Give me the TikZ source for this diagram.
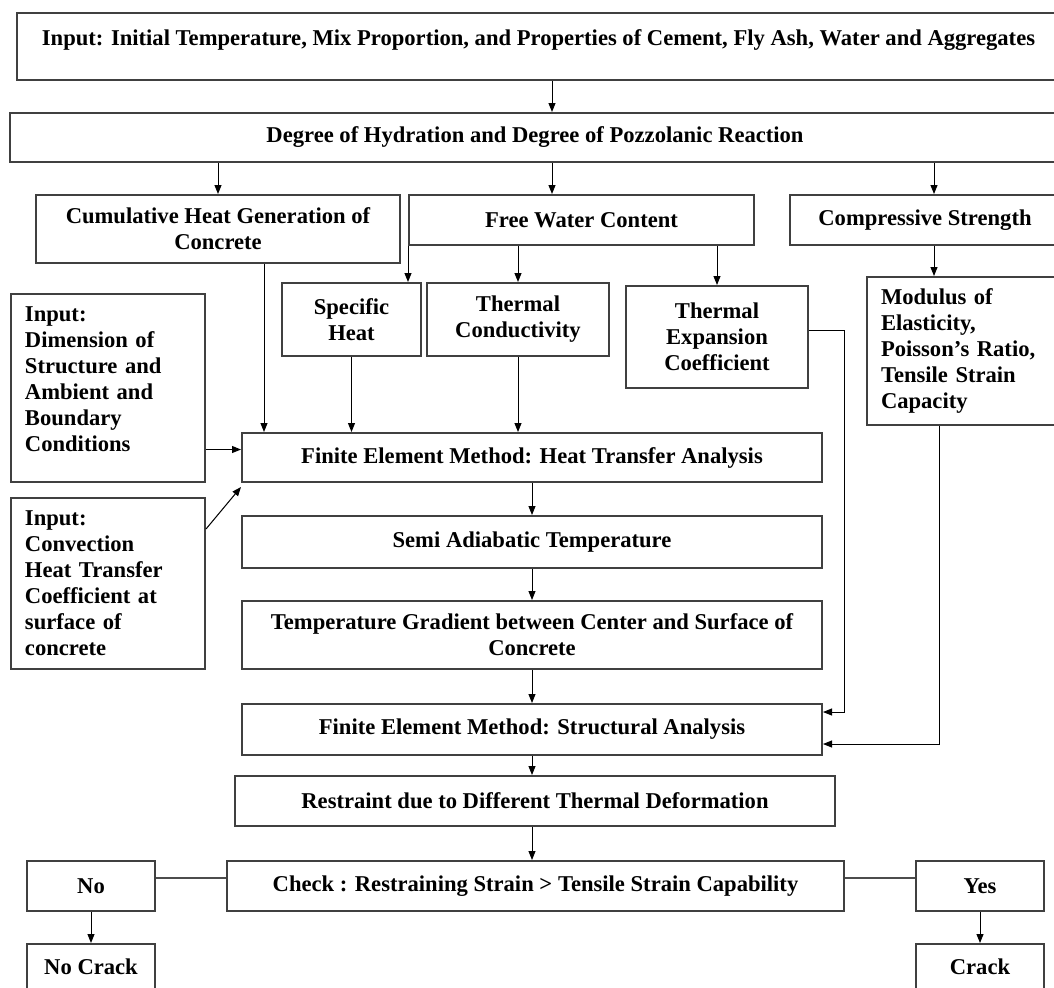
\documentclass[tikz,border=0pt]{standalone}
\usepackage{fontspec}
\setmainfont{Liberation Serif}
\usetikzlibrary{arrows.meta}

\begin{document}
\begin{tikzpicture}[x=0.5pt,y=-0.5pt,
  box/.style={draw=black!75, line width=1pt, align=center, inner sep=2pt,
    font=\fontsize{11.3}{13}\selectfont\bfseries},
  arr/.style={-{Triangle[length=4.5pt,width=3.5pt]}, line width=0.5pt},
  link/.style={draw=black!70, line width=0.8pt}]
\useasboundingbox (0,0) rectangle (1054,987);

% material input and hydration
\node[box, minimum width=521.5pt, minimum height=33.5pt, text depth=9pt] (inp) at (538.5,46.5)
  {Input: Initial Temperature, Mix Proportion, and Properties of Cement, Fly Ash, Water and Aggregates};
\node[box, minimum width=525pt, minimum height=24.5pt] (hyd) at (535,137.5)
  {Degree of Hydration and Degree of Pozzolanic Reaction};

% second row
\node[box, minimum width=182pt, minimum height=34pt] (cum) at (218,229)
  {Cumulative Heat Generation of\\Concrete};
\node[box, minimum width=172.5pt, minimum height=25pt] (fwc) at (581.5,220) {Free Water Content};
\node[box, minimum width=135pt, minimum height=25pt] (cs) at (925,220) {Compressive Strength};

% properties
\node[box, minimum width=69.5pt, minimum height=36.5pt] (sh) at (351.5,319.5) {Specific\\Heat};
\node[box, minimum width=91pt, minimum height=36.5pt] (tc) at (518,319.5) {Thermal\\Conductivity};
\node[box, minimum width=91pt, minimum height=51pt] (tec) at (717,337) {Thermal\\Expansion\\Coefficient};
\node[box, minimum width=104pt, minimum height=74pt, text width=90pt, align=left] (mod) at (971,351)
  {Modulus of\\Elasticity,\\Poisson’s Ratio,\\Tensile Strain\\Capacity};

% boundary inputs
\node[box, minimum width=97pt, minimum height=94pt, text width=83pt, align=left] (dim) at (108,388)
  {Input:\\Dimension of\\Structure and\\Ambient and\\Boundary\\Conditions\\[-4pt]\mbox{}};
\node[box, minimum width=97pt, minimum height=85.5pt, text width=83pt, align=left] (conv) at (108,583.5)
  {Input:\\Convection\\Heat Transfer\\Coefficient at\\surface of\\concrete};

% analysis column
\node[box, minimum width=290pt, minimum height=24.5pt] (feh) at (532,457.5)
  {Finite Element Method: Heat Transfer Analysis};
\node[box, minimum width=290pt, minimum height=26pt] (sat) at (532,542) {Semi Adiabatic Temperature};
\node[box, minimum width=290pt, minimum height=34pt] (tg) at (532,635)
  {Temperature Gradient between Center and Surface of\\Concrete};
\node[box, minimum width=290pt, minimum height=25.5pt] (fes) at (532,729.5)
  {Finite Element Method: Structural Analysis};
\node[box, minimum width=300pt, minimum height=25pt] (res) at (535,801)
  {Restraint due to Different Thermal Deformation};
\node[box, minimum width=308.5pt, minimum height=25pt] (chk) at (535.5,886)
  {Check : Restraining Strain > Tensile Strain Capability};

% outcome
\node[box, minimum width=64pt, minimum height=25pt] (no) at (91,886) {No};
\node[box, minimum width=64pt, minimum height=25pt] (yes) at (980,886) {Yes};
\node[box, minimum width=64pt, minimum height=23pt] (nocr) at (91,967) {No Crack};
\node[box, minimum width=64pt, minimum height=23pt] (cr) at (980,967) {Crack};

% connectors
\coordinate (c1) at (552,0);
\coordinate (c2) at (264,0);
\coordinate (c3) at (934,0);
\coordinate (k1) at (844,712);
\coordinate (k2) at (939,744);
\coordinate (f1) at ([yshift=4pt]feh.west);
\coordinate (g1) at ([yshift=4pt]chk.west);
\coordinate (g2) at ([yshift=4pt]chk.east);

\draw[arr] (inp.south -| c1) -- (hyd.north -| c1);
\draw[arr] (hyd.south -| cum.north) -- (cum.north);
\draw[arr] (hyd.south -| c1) -- (fwc.north -| c1);
\draw[arr] (hyd.south -| c3) -- (cs.north -| c3);
\draw[arr] (fwc.south west) -- (fwc.south west |- sh.north);
\draw[arr] (tc.north |- fwc.south) -- (tc.north);
\draw[arr] (tec.north |- fwc.south) -- (tec.north);
\draw[arr] (cs.south -| c3) -- (mod.north -| c3);
\draw[arr] (cum.south -| c2) -- (feh.north -| c2);
\draw[arr] (sh.south) -- (sh.south |- feh.north);
\draw[arr] (tc.south) -- (tc.south |- feh.north);
\draw[arr] (dim.east |- f1) -- (f1);
\draw[arr] ([yshift=-16pt]conv.north east) -- ([yshift=-2pt]feh.south west);
\draw[arr] (feh.south) -- (sat.north);
\draw[arr] (sat.south) -- (tg.north);
\draw[arr] (tg.south) -- (fes.north);
\draw[arr] (fes.south) -- (fes.south |- res.north);
\draw[arr] (fes.south |- res.south) -- (fes.south |- chk.north);
\draw[arr] ([yshift=3.5pt]tec.east) -| (k1) -- (k1 -| fes.east);
\draw[arr] (mod.south -| k2) -- (k2) -- (k2 -| fes.east);
\draw[link] (no.east |- g1) -- (g1);
\draw[link] (g2) -- (yes.west |- g2);
\draw[arr] (no.south) -- (no.south |- nocr.north);
\draw[arr] (yes.south) -- (yes.south |- cr.north);
\end{tikzpicture}
\end{document}
